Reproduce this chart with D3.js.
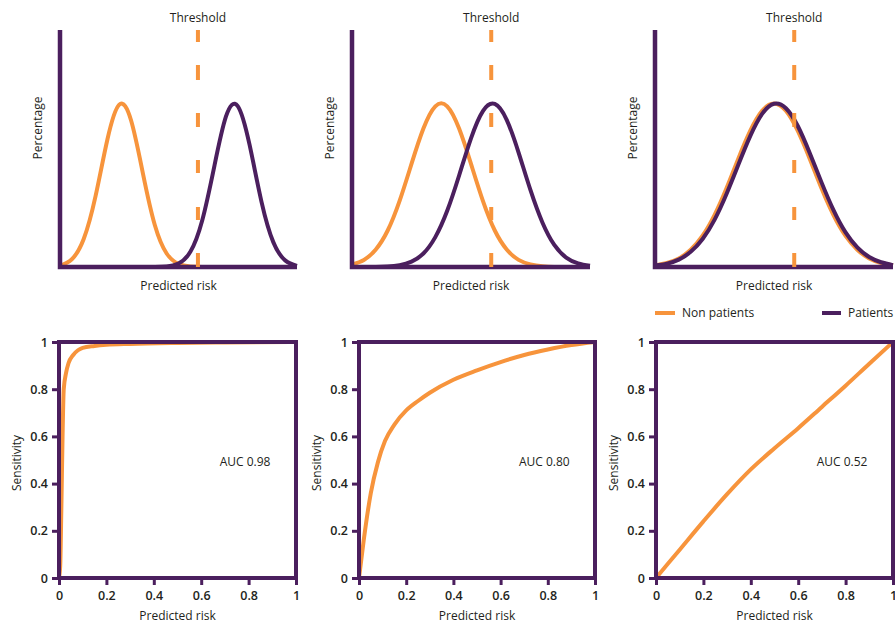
<!DOCTYPE html>
<html>
<head>
<meta charset="utf-8">
<script src="https://cdn.jsdelivr.net/npm/d3@7"></script>
<style>
  html, body { margin: 0; padding: 0; background: #fff; }
  svg { display: block; }
  text { font-family: "Open Sans", "DejaVu Sans", sans-serif; fill: #231f20; }
</style>
</head>
<body>
<script>
// ---------- DATA ----------
const densityX = [0,0.05,0.1,0.15,0.2,0.25,0.3,0.35,0.4,0.45,0.5,0.55,0.6,0.65,0.7,0.75,0.8,0.85,0.9,0.95,1];

const nonPatients1 = [0.006,0.033,0.118,0.299,0.538,0.685,0.618,0.394,0.177,0.057,0.013,0.002,0,0,0,0,0,0,0,0,0];
const patients1    = [0,0,0,0,0,0,0,0,0,0.002,0.015,0.064,0.196,0.419,0.634,0.679,0.515,0.276,0.105,0.028,0.005];

const nonPatients2 = [0.011,0.030,0.074,0.154,0.279,0.435,0.584,0.678,0.678,0.584,0.435,0.279,0.154,0.074,0.030,0.011,0.003,0,0,0,0];
const patients2    = [0,0,0,0.002,0.008,0.023,0.057,0.126,0.237,0.386,0.543,0.658,0.688,0.621,0.483,0.324,0.188,0.093,0.040,0.015,0.005];

const nonPatients3 = [0.007,0.017,0.036,0.073,0.132,0.219,0.331,0.457,0.574,0.659,0.690,0.659,0.574,0.457,0.331,0.219,0.132,0.073,0.036,0.017,0.007];
const patients3    = [0.006,0.014,0.031,0.064,0.118,0.199,0.307,0.431,0.552,0.646,0.689,0.670,0.595,0.481,0.356,0.240,0.147,0.083,0.042,0.020,0.008];

const thresholds = [0.582, 0.585, 0.585];

const roc1Fpr = [0,0.005,0.01,0.015,0.02,0.03,0.04,0.06,0.08,0.1,0.15,0.2,0.3,0.5,0.7,1];
const roc1Tpr = [0,0.05,0.3,0.6,0.8,0.87,0.91,0.945,0.965,0.975,0.983,0.988,0.992,0.996,0.998,1];

const roc2Fpr = [0,0.02,0.05,0.08,0.11,0.15,0.2,0.25,0.3,0.4,0.5,0.6,0.7,0.8,0.9,1];
const roc2Tpr = [0,0.16,0.36,0.49,0.58,0.65,0.71,0.75,0.785,0.84,0.88,0.915,0.945,0.968,0.987,1];

const roc3Fpr = [0,0.1,0.2,0.3,0.4,0.5,0.6,0.7,0.8,0.9,1];
const roc3Tpr = [0,0.12,0.24,0.355,0.46,0.55,0.635,0.725,0.815,0.908,1];

const aucLabels = ["AUC 0.98", "AUC 0.80", "AUC 0.52"];
const rocTicks = [0,0.2,0.4,0.6,0.8,1];
const legendLabels = ["Non patients", "Patients"];

// ---------- STYLE ----------
const ORANGE = "#f7943c";
const PURPLE = "#4b1f5e";
const W = 895, H = 623;

const svg = d3.select("body").append("svg").attr("width", W).attr("height", H);

// ---------- TOP PANELS (distributions) ----------
const topPanels = [
  {left: 60,  right: 297, np: nonPatients1, p: patients1, th: thresholds[0]},
  {left: 352, right: 590, np: nonPatients2, p: patients2, th: thresholds[1]},
  {left: 655, right: 893, np: nonPatients3, p: patients3, th: thresholds[2]}
];
const topY = 30, baseY = 267;

topPanels.forEach((pnl) => {
  const g = svg.append("g");
  const x = d3.scaleLinear().domain([0, 1]).range([pnl.left, pnl.right]);
  const y = d3.scaleLinear().domain([0, 1]).range([baseY, topY]);
  const line = d3.line().x(d => x(d[0])).y(d => Math.min(y(0), y(d[1]))).curve(d3.curveNatural);

  g.append("path").datum(densityX.map((v, i) => [v, pnl.np[i]]))
    .attr("d", line).attr("fill", "none").attr("stroke", ORANGE).attr("stroke-width", 4);
  g.append("path").datum(densityX.map((v, i) => [v, pnl.p[i]]))
    .attr("d", line).attr("fill", "none").attr("stroke", PURPLE).attr("stroke-width", 4);

  // axes (L shape)
  g.append("path")
    .attr("d", `M${x(0)},${y(1)} L${x(0)},${y(0)} L${x(1)},${y(0)}`)
    .attr("fill", "none").attr("stroke", PURPLE).attr("stroke-width", 4.5)
    .attr("stroke-linejoin", "miter");

  // threshold
  g.append("line")
    .attr("x1", x(pnl.th)).attr("x2", x(pnl.th))
    .attr("y1", y(1)).attr("y2", y(0))
    .attr("stroke", ORANGE).attr("stroke-width", 4)
    .attr("stroke-dasharray", "12,23,15,33,14,33,13,34,13,33,14");

  g.append("text").attr("x", x(pnl.th)).attr("y", 22)
    .attr("text-anchor", "middle").attr("font-size", 12).text("Threshold");
  g.append("text").attr("x", x(0.5)).attr("y", 290)
    .attr("text-anchor", "middle").attr("font-size", 12).text("Predicted risk");
  g.append("text")
    .attr("transform", `translate(${pnl.left - 18},${128}) rotate(-90)`)
    .attr("text-anchor", "middle").attr("font-size", 12).text("Percentage");
});

// ---------- LEGEND ----------
const legend = svg.append("g");
[[655, 675, 682, ORANGE, legendLabels[0]], [822, 841, 848, PURPLE, legendLabels[1]]].forEach(([x1, x2, tx, col, lab]) => {
  legend.append("line").attr("x1", x1).attr("x2", x2).attr("y1", 313).attr("y2", 313)
    .attr("stroke", col).attr("stroke-width", 4);
  legend.append("text").attr("x", tx).attr("y", 317).attr("font-size", 12).text(lab);
});

// ---------- BOTTOM PANELS (ROC) ----------
const rocPanels = [
  {left: 59,  right: 296, fpr: roc1Fpr, tpr: roc1Tpr, auc: aucLabels[0]},
  {left: 359, right: 595, fpr: roc2Fpr, tpr: roc2Tpr, auc: aucLabels[1]},
  {left: 656, right: 893, fpr: roc3Fpr, tpr: roc3Tpr, auc: aucLabels[2]}
];
const rTop = 342, rBot = 578;

rocPanels.forEach((pnl) => {
  const g = svg.append("g");
  const x = d3.scaleLinear().domain([0, 1]).range([pnl.left, pnl.right]);
  const y = d3.scaleLinear().domain([0, 1]).range([rBot, rTop]);
  const line = d3.line().x(d => x(d[0])).y(d => y(d[1])).curve(d3.curveMonotoneX);

  g.append("path").datum(pnl.fpr.map((v, i) => [v, pnl.tpr[i]]))
    .attr("d", line).attr("fill", "none").attr("stroke", ORANGE).attr("stroke-width", 4)
    .attr("stroke-linecap", "round");

  g.append("rect")
    .attr("x", x(0)).attr("y", y(1))
    .attr("width", x(1) - x(0)).attr("height", y(0) - y(1))
    .attr("fill", "none").attr("stroke", PURPLE).attr("stroke-width", 4);

  const fmt = d3.format("~g");
  const ax = g.append("g").attr("transform", `translate(0,${y(0) + 2})`)
    .call(d3.axisBottom(x).tickValues(rocTicks).tickFormat(fmt).tickSize(5).tickPadding(6));
  const ay = g.append("g").attr("transform", `translate(${x(0) - 2},0)`)
    .call(d3.axisLeft(y).tickValues(rocTicks).tickFormat(fmt).tickSize(5).tickPadding(4));
  [ax, ay].forEach(a => {
    a.select(".domain").remove();
    a.selectAll(".tick line").attr("stroke", PURPLE).attr("stroke-width", 3);
    a.selectAll(".tick text").attr("font-size", 12.5).attr("font-weight", 600)
      .attr("font-family", "\"Open Sans\", sans-serif").attr("fill", "#2a2a2a");
  });

  g.append("text").attr("x", x(0.785)).attr("y", y(0.49) + 4)
    .attr("text-anchor", "middle").attr("font-size", 12).text(pnl.auc);
  g.append("text").attr("x", x(0.5)).attr("y", 620)
    .attr("text-anchor", "middle").attr("font-size", 12).text("Predicted risk");
  g.append("text")
    .attr("transform", `translate(${pnl.left - 38},${463}) rotate(-90)`)
    .attr("text-anchor", "middle").attr("font-size", 12).text("Sensitivity");
});
</script>
</body>
</html>
